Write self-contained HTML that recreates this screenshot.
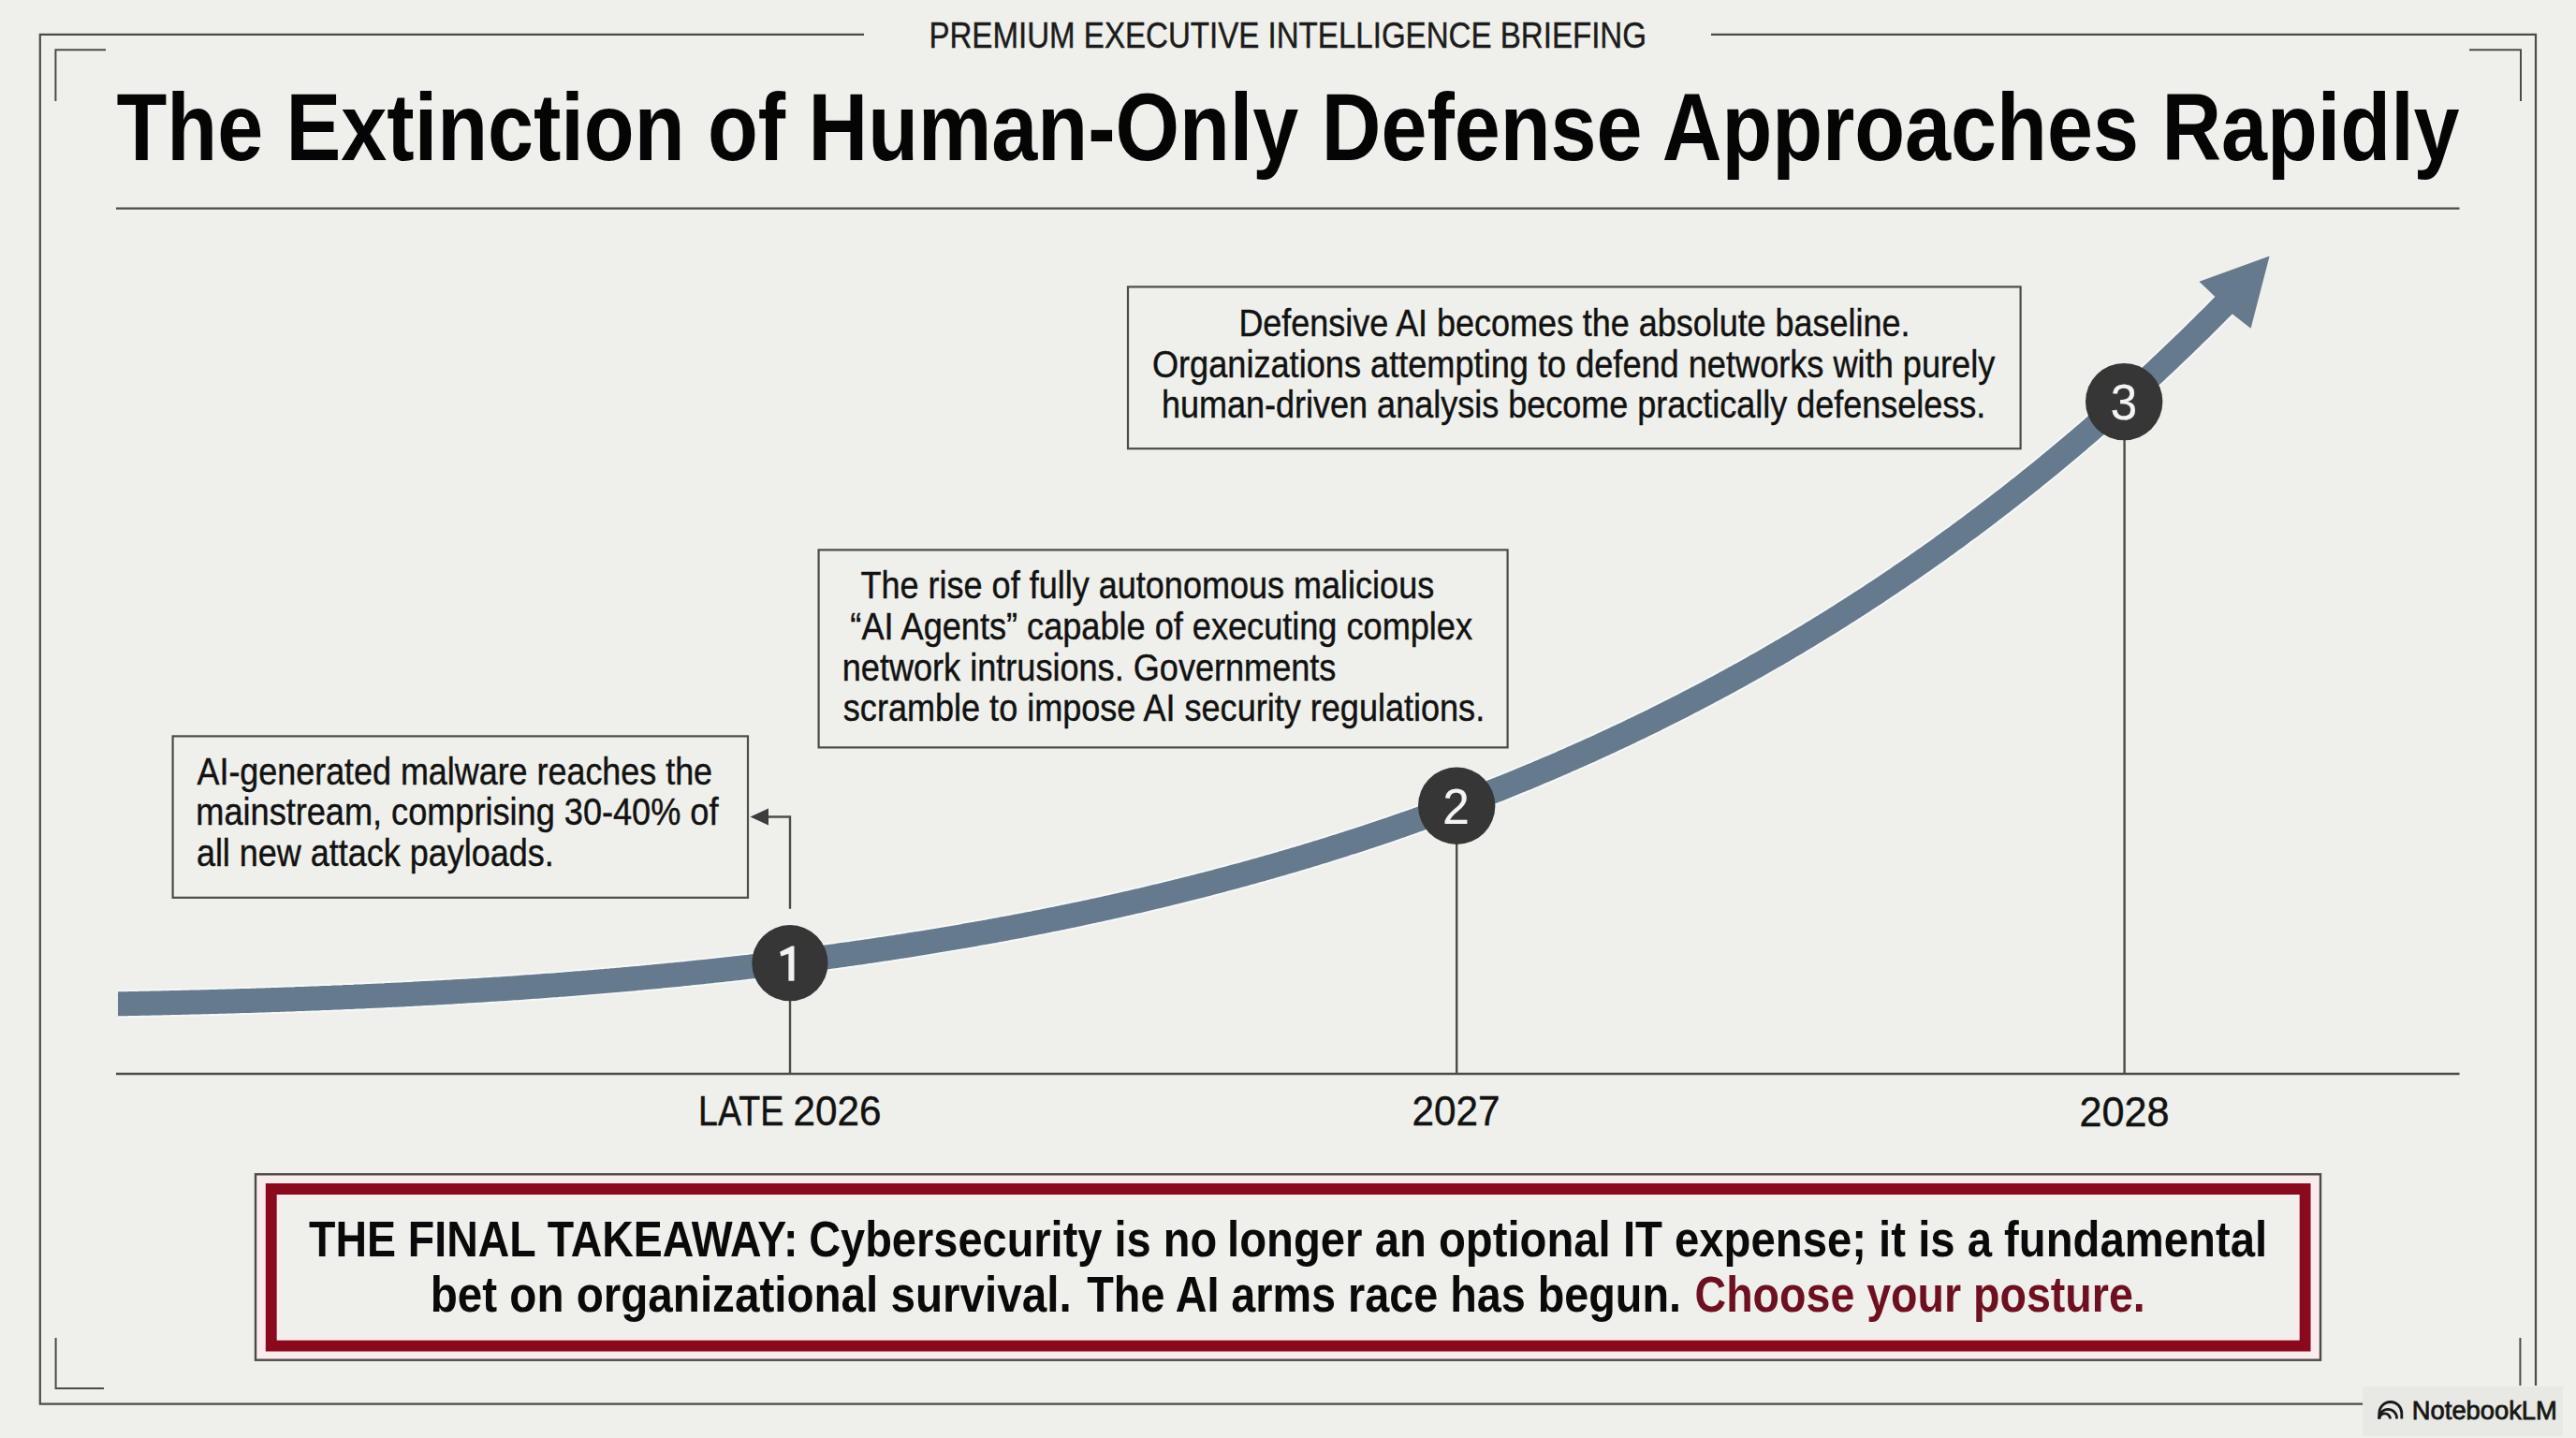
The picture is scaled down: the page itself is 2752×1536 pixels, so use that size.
<!DOCTYPE html>
<html><head><meta charset="utf-8">
<title>The Extinction of Human-Only Defense Approaches Rapidly</title>
<style>
html,body{margin:0;padding:0;background:#eff0eb;}
body{width:2752px;height:1536px;overflow:hidden;position:relative;font-family:"Liberation Sans",sans-serif;}
svg{position:absolute;left:0;top:0;display:block;}
svg text{font-family:"Liberation Sans",sans-serif;}
</style></head><body>
<svg width="2752" height="1536" viewBox="0 0 2752 1536">
<rect x="0" y="0" width="2752" height="1536" fill="#eff0eb"/>
<!-- outer frame -->
<g stroke="#4b4c48" stroke-width="2.2" fill="none">
<path d="M923,36.8 H42.8 V1499.6 H2524"/>
<path d="M1828,36.8 H2709 V1480"/>
</g>
<!-- corner brackets -->
<g stroke="#4b4c48" stroke-width="2" fill="none">
<path d="M113,53.2 H59.4 V108"/>
<path d="M2638,53.2 H2693 V108"/>
<path d="M59.6,1429 V1483 H111"/>
<path d="M2692.4,1429 V1480"/>
</g>
<!-- divider -->
<line x1="124" y1="222.6" x2="2627.5" y2="222.6" stroke="#4b4c48" stroke-width="2.4"/>
<!-- axis -->
<line x1="124" y1="1147" x2="2627.5" y2="1147" stroke="#4b4c48" stroke-width="2.6"/>
<!-- drop lines -->
<g stroke="#4b4c48" stroke-width="2.4">
<line x1="844" y1="1030" x2="844" y2="1147"/>
<line x1="1556.2" y1="861" x2="1556.2" y2="1147"/>
<line x1="2269.6" y1="429" x2="2269.6" y2="1147"/>
</g>
<!-- callout arrow -->
<path d="M844,970.8 V872.5 H818" stroke="#4b4c48" stroke-width="2.4" fill="none"/>
<path d="M801.5,872.5 L821,863.5 L821,881.5 Z" fill="#3c3c3c"/>
<!-- boxes -->
<g stroke="#4b4c48" stroke-width="2.2" fill="none">
<rect x="184.6" y="786.4" width="614.4" height="172.4"/>
<rect x="874.6" y="587.4" width="736" height="211"/>
<rect x="1205" y="306.4" width="953.6" height="172.8"/>
</g>
<!-- curve -->
<path d="M126.0,1072.3 L129.0,1072.3 L132.0,1072.2 L135.0,1072.2 L138.0,1072.1 L141.0,1072.0 L144.0,1072.0 L147.0,1071.9 L150.0,1071.8 L153.0,1071.8 L156.0,1071.7 L159.0,1071.7 L162.0,1071.6 L165.0,1071.5 L168.0,1071.5 L171.0,1071.4 L174.0,1071.3 L177.0,1071.3 L180.0,1071.2 L183.0,1071.1 L186.0,1071.1 L189.0,1071.0 L192.0,1070.9 L195.0,1070.8 L198.0,1070.8 L201.0,1070.7 L204.0,1070.6 L207.0,1070.5 L210.0,1070.5 L213.0,1070.4 L216.0,1070.3 L219.0,1070.2 L222.0,1070.2 L225.0,1070.1 L228.0,1070.0 L231.0,1069.9 L234.0,1069.8 L237.0,1069.7 L240.0,1069.7 L243.0,1069.6 L246.0,1069.5 L249.0,1069.4 L252.0,1069.3 L255.0,1069.2 L258.0,1069.1 L261.0,1069.0 L264.0,1069.0 L267.0,1068.9 L270.0,1068.8 L273.0,1068.7 L276.0,1068.6 L279.0,1068.5 L282.0,1068.4 L285.0,1068.3 L288.0,1068.2 L291.0,1068.1 L294.0,1068.0 L297.0,1067.9 L300.0,1067.8 L303.0,1067.7 L306.0,1067.6 L309.0,1067.5 L312.0,1067.4 L315.0,1067.3 L318.0,1067.1 L321.0,1067.0 L324.0,1066.9 L327.0,1066.8 L330.0,1066.7 L333.0,1066.6 L336.0,1066.5 L339.0,1066.4 L342.0,1066.2 L345.0,1066.1 L348.0,1066.0 L351.0,1065.9 L354.0,1065.8 L357.0,1065.6 L360.0,1065.5 L363.0,1065.4 L366.0,1065.3 L369.0,1065.1 L372.0,1065.0 L375.0,1064.9 L378.0,1064.8 L381.0,1064.6 L384.0,1064.5 L387.0,1064.4 L390.0,1064.2 L393.0,1064.1 L396.0,1064.0 L399.0,1063.8 L402.0,1063.7 L405.0,1063.5 L408.0,1063.4 L411.0,1063.3 L414.0,1063.1 L417.0,1063.0 L420.0,1062.8 L423.0,1062.7 L426.0,1062.5 L429.0,1062.4 L432.0,1062.2 L435.0,1062.1 L438.0,1061.9 L441.0,1061.8 L444.0,1061.6 L447.0,1061.5 L450.0,1061.3 L453.0,1061.1 L456.0,1061.0 L459.0,1060.8 L462.0,1060.7 L465.0,1060.5 L468.0,1060.3 L471.0,1060.2 L474.0,1060.0 L477.0,1059.8 L480.0,1059.7 L483.0,1059.5 L486.0,1059.3 L489.0,1059.1 L492.0,1059.0 L495.0,1058.8 L498.0,1058.6 L501.0,1058.4 L504.0,1058.2 L507.0,1058.1 L510.0,1057.9 L513.0,1057.7 L516.0,1057.5 L519.0,1057.3 L522.0,1057.1 L525.0,1056.9 L528.0,1056.7 L531.0,1056.6 L534.0,1056.4 L537.0,1056.2 L540.0,1056.0 L543.0,1055.8 L546.0,1055.6 L549.0,1055.4 L552.0,1055.2 L555.0,1055.0 L558.0,1054.7 L561.0,1054.5 L564.0,1054.3 L567.0,1054.1 L570.0,1053.9 L573.0,1053.7 L576.0,1053.5 L579.0,1053.3 L582.0,1053.0 L585.0,1052.8 L588.0,1052.6 L591.0,1052.4 L594.0,1052.2 L597.0,1051.9 L600.0,1051.7 L603.0,1051.5 L606.0,1051.2 L609.0,1051.0 L612.0,1050.8 L615.0,1050.5 L618.0,1050.3 L621.0,1050.1 L624.0,1049.8 L627.0,1049.6 L630.0,1049.3 L633.0,1049.1 L636.0,1048.8 L639.0,1048.6 L642.0,1048.3 L645.0,1048.1 L648.0,1047.8 L651.0,1047.6 L654.0,1047.3 L657.0,1047.1 L660.0,1046.8 L663.0,1046.6 L666.0,1046.3 L669.0,1046.0 L672.0,1045.8 L675.0,1045.5 L678.0,1045.2 L681.0,1044.9 L684.0,1044.7 L687.0,1044.4 L690.0,1044.1 L693.0,1043.8 L696.0,1043.6 L699.0,1043.3 L702.0,1043.0 L705.0,1042.7 L708.0,1042.4 L711.0,1042.1 L714.0,1041.8 L717.0,1041.5 L720.0,1041.3 L723.0,1041.0 L726.0,1040.7 L729.0,1040.4 L732.0,1040.1 L735.0,1039.8 L738.0,1039.4 L741.0,1039.1 L744.0,1038.8 L747.0,1038.5 L750.0,1038.2 L753.0,1037.9 L756.0,1037.6 L759.0,1037.3 L762.0,1036.9 L765.0,1036.6 L768.0,1036.3 L771.0,1036.0 L774.0,1035.6 L777.0,1035.3 L780.0,1035.0 L783.0,1034.6 L786.0,1034.3 L789.0,1034.0 L792.0,1033.6 L795.0,1033.3 L798.0,1032.9 L801.0,1032.6 L804.0,1032.2 L807.0,1031.9 L810.0,1031.5 L813.0,1031.2 L816.0,1030.8 L819.0,1030.5 L822.0,1030.1 L825.0,1029.8 L828.0,1029.4 L831.0,1029.0 L834.0,1028.7 L837.0,1028.3 L840.0,1027.9 L843.0,1027.5 L846.0,1027.2 L849.0,1026.8 L852.0,1026.4 L855.0,1026.0 L858.0,1025.6 L861.0,1025.3 L864.0,1024.9 L867.0,1024.5 L870.0,1024.1 L873.0,1023.7 L876.0,1023.3 L879.0,1022.9 L882.0,1022.5 L885.0,1022.1 L888.0,1021.7 L891.0,1021.3 L894.0,1020.9 L897.0,1020.4 L900.0,1020.0 L903.0,1019.6 L906.0,1019.2 L909.0,1018.8 L912.0,1018.3 L915.0,1017.9 L918.0,1017.5 L921.0,1017.1 L924.0,1016.6 L927.0,1016.2 L930.0,1015.8 L933.0,1015.3 L936.0,1014.9 L939.0,1014.4 L942.0,1014.0 L945.0,1013.5 L948.0,1013.1 L951.0,1012.6 L954.0,1012.2 L957.0,1011.7 L960.0,1011.2 L963.0,1010.8 L966.0,1010.3 L969.0,1009.9 L972.0,1009.4 L975.0,1008.9 L978.0,1008.4 L981.0,1008.0 L984.0,1007.5 L987.0,1007.0 L990.0,1006.5 L993.0,1006.0 L996.0,1005.5 L999.0,1005.0 L1002.0,1004.5 L1005.0,1004.0 L1008.0,1003.5 L1011.0,1003.0 L1014.0,1002.5 L1017.0,1002.0 L1020.0,1001.5 L1023.0,1001.0 L1026.0,1000.5 L1029.0,1000.0 L1032.0,999.4 L1035.0,998.9 L1038.0,998.4 L1041.0,997.9 L1044.0,997.3 L1047.0,996.8 L1050.0,996.3 L1053.0,995.7 L1056.0,995.2 L1059.0,994.6 L1062.0,994.1 L1065.0,993.5 L1068.0,993.0 L1071.0,992.4 L1074.0,991.9 L1077.0,991.3 L1080.0,990.8 L1083.0,990.2 L1086.0,989.6 L1089.0,989.1 L1092.0,988.5 L1095.0,987.9 L1098.0,987.3 L1101.0,986.7 L1104.0,986.2 L1107.0,985.6 L1110.0,985.0 L1113.0,984.4 L1116.0,983.8 L1119.0,983.2 L1122.0,982.6 L1125.0,982.0 L1128.0,981.4 L1131.0,980.8 L1134.0,980.2 L1137.0,979.5 L1140.0,978.9 L1143.0,978.3 L1146.0,977.7 L1149.0,977.0 L1152.0,976.4 L1155.0,975.8 L1158.0,975.1 L1161.0,974.5 L1164.0,973.9 L1167.0,973.2 L1170.0,972.6 L1173.0,971.9 L1176.0,971.3 L1179.0,970.6 L1182.0,969.9 L1185.0,969.3 L1188.0,968.6 L1191.0,967.9 L1194.0,967.3 L1197.0,966.6 L1200.0,965.9 L1203.0,965.2 L1206.0,964.6 L1209.0,963.9 L1212.0,963.2 L1215.0,962.5 L1218.0,961.8 L1221.0,961.1 L1224.0,960.4 L1227.0,959.7 L1230.0,959.0 L1233.0,958.2 L1236.0,957.5 L1239.0,956.8 L1242.0,956.1 L1245.0,955.4 L1248.0,954.6 L1251.0,953.9 L1254.0,953.2 L1257.0,952.4 L1260.0,951.7 L1263.0,950.9 L1266.0,950.2 L1269.0,949.4 L1272.0,948.7 L1275.0,947.9 L1278.0,947.2 L1281.0,946.4 L1284.0,945.6 L1287.0,944.8 L1290.0,944.1 L1293.0,943.3 L1296.0,942.5 L1299.0,941.7 L1302.0,940.9 L1305.0,940.1 L1308.0,939.3 L1311.0,938.5 L1314.0,937.7 L1317.0,936.9 L1320.0,936.1 L1323.0,935.3 L1326.0,934.5 L1329.0,933.7 L1332.0,932.8 L1335.0,932.0 L1338.0,931.2 L1341.0,930.3 L1344.0,929.5 L1347.0,928.7 L1350.0,927.8 L1353.0,927.0 L1356.0,926.1 L1359.0,925.3 L1362.0,924.4 L1365.0,923.5 L1368.0,922.7 L1371.0,921.8 L1374.0,920.9 L1377.0,920.0 L1380.0,919.2 L1383.0,918.3 L1386.0,917.4 L1389.0,916.5 L1392.0,915.6 L1395.0,914.7 L1398.0,913.8 L1401.0,912.9 L1404.0,912.0 L1407.0,911.0 L1410.0,910.1 L1413.0,909.2 L1416.0,908.3 L1419.0,907.3 L1422.0,906.4 L1425.0,905.4 L1428.0,904.5 L1431.0,903.6 L1434.0,902.6 L1437.0,901.6 L1440.0,900.7 L1443.0,899.7 L1446.0,898.8 L1449.0,897.8 L1452.0,896.8 L1455.0,895.8 L1458.0,894.8 L1461.0,893.9 L1464.0,892.9 L1467.0,891.9 L1470.0,890.9 L1473.0,889.9 L1476.0,888.8 L1479.0,887.8 L1482.0,886.8 L1485.0,885.8 L1488.0,884.8 L1491.0,883.7 L1494.0,882.7 L1497.0,881.7 L1500.0,880.6 L1503.0,879.6 L1506.0,878.5 L1509.0,877.5 L1512.0,876.4 L1515.0,875.3 L1518.0,874.3 L1521.0,873.2 L1524.0,872.1 L1527.0,871.0 L1530.0,870.0 L1533.0,868.9 L1536.0,867.8 L1539.0,866.7 L1542.0,865.6 L1545.0,864.5 L1548.0,863.4 L1551.0,862.2 L1554.0,861.1 L1557.0,860.0 L1560.0,858.9 L1563.0,857.7 L1566.0,856.6 L1569.0,855.4 L1572.0,854.3 L1575.0,853.1 L1578.0,852.0 L1581.0,850.8 L1584.0,849.7 L1587.0,848.5 L1590.0,847.3 L1593.0,846.1 L1596.0,844.9 L1599.0,843.8 L1602.0,842.6 L1605.0,841.4 L1608.0,840.2 L1611.0,838.9 L1614.0,837.7 L1617.0,836.5 L1620.0,835.3 L1623.0,834.1 L1626.0,832.8 L1629.0,831.6 L1632.0,830.4 L1635.0,829.1 L1638.0,827.9 L1641.0,826.6 L1644.0,825.3 L1647.0,824.1 L1650.0,822.8 L1653.0,821.5 L1656.0,820.2 L1659.0,818.9 L1662.0,817.7 L1665.0,816.4 L1668.0,815.1 L1671.0,813.7 L1674.0,812.4 L1677.0,811.1 L1680.0,809.8 L1683.0,808.5 L1686.0,807.1 L1689.0,805.8 L1692.0,804.5 L1695.0,803.1 L1698.0,801.8 L1701.0,800.4 L1704.0,799.0 L1707.0,797.7 L1710.0,796.3 L1713.0,794.9 L1716.0,793.5 L1719.0,792.1 L1722.0,790.7 L1725.0,789.3 L1728.0,787.9 L1731.0,786.5 L1734.0,785.1 L1737.0,783.7 L1740.0,782.3 L1743.0,780.8 L1746.0,779.4 L1749.0,777.9 L1752.0,776.5 L1755.0,775.0 L1758.0,773.6 L1761.0,772.1 L1764.0,770.6 L1767.0,769.2 L1770.0,767.7 L1773.0,766.2 L1776.0,764.7 L1779.0,763.2 L1782.0,761.7 L1785.0,760.2 L1788.0,758.7 L1791.0,757.1 L1794.0,755.6 L1797.0,754.1 L1800.0,752.5 L1803.0,751.0 L1806.0,749.4 L1809.0,747.9 L1812.0,746.3 L1815.0,744.7 L1818.0,743.2 L1821.0,741.6 L1824.0,740.0 L1827.0,738.4 L1830.0,736.8 L1833.0,735.2 L1836.0,733.6 L1839.0,732.0 L1842.0,730.4 L1845.0,728.7 L1848.0,727.1 L1851.0,725.4 L1854.0,723.8 L1857.0,722.1 L1860.0,720.5 L1863.0,718.8 L1866.0,717.2 L1869.0,715.5 L1872.0,713.8 L1875.0,712.1 L1878.0,710.4 L1881.0,708.7 L1884.0,707.0 L1887.0,705.3 L1890.0,703.6 L1893.0,701.8 L1896.0,700.1 L1899.0,698.4 L1902.0,696.6 L1905.0,694.9 L1908.0,693.1 L1911.0,691.3 L1914.0,689.6 L1917.0,687.8 L1920.0,686.0 L1923.0,684.2 L1926.0,682.4 L1929.0,680.6 L1932.0,678.8 L1935.0,677.0 L1938.0,675.1 L1941.0,673.3 L1944.0,671.5 L1947.0,669.6 L1950.0,667.8 L1953.0,665.9 L1956.0,664.0 L1959.0,662.2 L1962.0,660.3 L1965.0,658.4 L1968.0,656.5 L1971.0,654.6 L1974.0,652.7 L1977.0,650.8 L1980.0,648.9 L1983.0,646.9 L1986.0,645.0 L1989.0,643.1 L1992.0,641.1 L1995.0,639.2 L1998.0,637.2 L2001.0,635.2 L2004.0,633.3 L2007.0,631.3 L2010.0,629.3 L2013.0,627.3 L2016.0,625.3 L2019.0,623.3 L2022.0,621.2 L2025.0,619.2 L2028.0,617.2 L2031.0,615.1 L2034.0,613.1 L2037.0,611.0 L2040.0,609.0 L2043.0,606.9 L2046.0,604.8 L2049.0,602.7 L2052.0,600.6 L2055.0,598.5 L2058.0,596.4 L2061.0,594.3 L2064.0,592.2 L2067.0,590.1 L2070.0,587.9 L2073.0,585.8 L2076.0,583.6 L2079.0,581.5 L2082.0,579.3 L2085.0,577.1 L2088.0,574.9 L2091.0,572.8 L2094.0,570.6 L2097.0,568.3 L2100.0,566.1 L2103.0,563.9 L2106.0,561.7 L2109.0,559.4 L2112.0,557.2 L2115.0,554.9 L2118.0,552.7 L2121.0,550.4 L2124.0,548.1 L2127.0,545.8 L2130.0,543.6 L2133.0,541.3 L2136.0,538.9 L2139.0,536.6 L2142.0,534.3 L2145.0,532.0 L2148.0,529.6 L2151.0,527.3 L2154.0,524.9 L2157.0,522.5 L2160.0,520.2 L2163.0,517.8 L2166.0,515.4 L2169.0,513.0 L2172.0,510.6 L2175.0,508.2 L2178.0,505.7 L2181.0,503.3 L2184.0,500.9 L2187.0,498.4 L2190.0,496.0 L2193.0,493.5 L2196.0,491.0 L2199.0,488.5 L2202.0,486.0 L2205.0,483.5 L2208.0,481.0 L2211.0,478.5 L2214.0,476.0 L2217.0,473.4 L2220.0,470.9 L2223.0,468.3 L2226.0,465.8 L2229.0,463.2 L2232.0,460.6 L2235.0,458.0 L2238.0,455.4 L2241.0,452.8 L2244.0,450.2 L2247.0,447.6 L2250.0,444.9 L2253.0,442.3 L2256.0,439.6 L2259.0,437.0 L2262.0,434.3 L2265.0,431.6 L2268.0,428.9 L2271.0,426.2 L2274.0,423.5 L2277.0,420.8 L2280.0,418.1 L2283.0,415.3 L2286.0,412.6 L2289.0,409.8 L2292.0,407.1 L2295.0,404.3 L2298.0,401.5 L2301.0,398.7 L2304.0,395.9 L2307.0,393.1 L2310.0,390.3 L2313.0,387.5 L2316.0,384.6 L2319.0,381.8 L2322.0,378.9 L2325.0,376.1 L2328.0,373.2 L2331.0,370.3 L2334.0,367.4 L2337.0,364.5 L2340.0,361.6 L2343.0,358.6 L2346.0,355.7 L2349.0,352.7 L2352.0,349.8 L2355.0,346.8 L2358.0,343.8 L2361.0,340.9 L2364.0,337.9 L2367.0,334.9 L2370.0,331.8 L2373.0,328.8 L2376.0,325.8 L2379.0,322.7" stroke="#f6f8fa" stroke-width="30" fill="none" stroke-linecap="butt" opacity="0.9"/>
<path d="M126.0,1072.3 L129.0,1072.3 L132.0,1072.2 L135.0,1072.2 L138.0,1072.1 L141.0,1072.0 L144.0,1072.0 L147.0,1071.9 L150.0,1071.8 L153.0,1071.8 L156.0,1071.7 L159.0,1071.7 L162.0,1071.6 L165.0,1071.5 L168.0,1071.5 L171.0,1071.4 L174.0,1071.3 L177.0,1071.3 L180.0,1071.2 L183.0,1071.1 L186.0,1071.1 L189.0,1071.0 L192.0,1070.9 L195.0,1070.8 L198.0,1070.8 L201.0,1070.7 L204.0,1070.6 L207.0,1070.5 L210.0,1070.5 L213.0,1070.4 L216.0,1070.3 L219.0,1070.2 L222.0,1070.2 L225.0,1070.1 L228.0,1070.0 L231.0,1069.9 L234.0,1069.8 L237.0,1069.7 L240.0,1069.7 L243.0,1069.6 L246.0,1069.5 L249.0,1069.4 L252.0,1069.3 L255.0,1069.2 L258.0,1069.1 L261.0,1069.0 L264.0,1069.0 L267.0,1068.9 L270.0,1068.8 L273.0,1068.7 L276.0,1068.6 L279.0,1068.5 L282.0,1068.4 L285.0,1068.3 L288.0,1068.2 L291.0,1068.1 L294.0,1068.0 L297.0,1067.9 L300.0,1067.8 L303.0,1067.7 L306.0,1067.6 L309.0,1067.5 L312.0,1067.4 L315.0,1067.3 L318.0,1067.1 L321.0,1067.0 L324.0,1066.9 L327.0,1066.8 L330.0,1066.7 L333.0,1066.6 L336.0,1066.5 L339.0,1066.4 L342.0,1066.2 L345.0,1066.1 L348.0,1066.0 L351.0,1065.9 L354.0,1065.8 L357.0,1065.6 L360.0,1065.5 L363.0,1065.4 L366.0,1065.3 L369.0,1065.1 L372.0,1065.0 L375.0,1064.9 L378.0,1064.8 L381.0,1064.6 L384.0,1064.5 L387.0,1064.4 L390.0,1064.2 L393.0,1064.1 L396.0,1064.0 L399.0,1063.8 L402.0,1063.7 L405.0,1063.5 L408.0,1063.4 L411.0,1063.3 L414.0,1063.1 L417.0,1063.0 L420.0,1062.8 L423.0,1062.7 L426.0,1062.5 L429.0,1062.4 L432.0,1062.2 L435.0,1062.1 L438.0,1061.9 L441.0,1061.8 L444.0,1061.6 L447.0,1061.5 L450.0,1061.3 L453.0,1061.1 L456.0,1061.0 L459.0,1060.8 L462.0,1060.7 L465.0,1060.5 L468.0,1060.3 L471.0,1060.2 L474.0,1060.0 L477.0,1059.8 L480.0,1059.7 L483.0,1059.5 L486.0,1059.3 L489.0,1059.1 L492.0,1059.0 L495.0,1058.8 L498.0,1058.6 L501.0,1058.4 L504.0,1058.2 L507.0,1058.1 L510.0,1057.9 L513.0,1057.7 L516.0,1057.5 L519.0,1057.3 L522.0,1057.1 L525.0,1056.9 L528.0,1056.7 L531.0,1056.6 L534.0,1056.4 L537.0,1056.2 L540.0,1056.0 L543.0,1055.8 L546.0,1055.6 L549.0,1055.4 L552.0,1055.2 L555.0,1055.0 L558.0,1054.7 L561.0,1054.5 L564.0,1054.3 L567.0,1054.1 L570.0,1053.9 L573.0,1053.7 L576.0,1053.5 L579.0,1053.3 L582.0,1053.0 L585.0,1052.8 L588.0,1052.6 L591.0,1052.4 L594.0,1052.2 L597.0,1051.9 L600.0,1051.7 L603.0,1051.5 L606.0,1051.2 L609.0,1051.0 L612.0,1050.8 L615.0,1050.5 L618.0,1050.3 L621.0,1050.1 L624.0,1049.8 L627.0,1049.6 L630.0,1049.3 L633.0,1049.1 L636.0,1048.8 L639.0,1048.6 L642.0,1048.3 L645.0,1048.1 L648.0,1047.8 L651.0,1047.6 L654.0,1047.3 L657.0,1047.1 L660.0,1046.8 L663.0,1046.6 L666.0,1046.3 L669.0,1046.0 L672.0,1045.8 L675.0,1045.5 L678.0,1045.2 L681.0,1044.9 L684.0,1044.7 L687.0,1044.4 L690.0,1044.1 L693.0,1043.8 L696.0,1043.6 L699.0,1043.3 L702.0,1043.0 L705.0,1042.7 L708.0,1042.4 L711.0,1042.1 L714.0,1041.8 L717.0,1041.5 L720.0,1041.3 L723.0,1041.0 L726.0,1040.7 L729.0,1040.4 L732.0,1040.1 L735.0,1039.8 L738.0,1039.4 L741.0,1039.1 L744.0,1038.8 L747.0,1038.5 L750.0,1038.2 L753.0,1037.9 L756.0,1037.6 L759.0,1037.3 L762.0,1036.9 L765.0,1036.6 L768.0,1036.3 L771.0,1036.0 L774.0,1035.6 L777.0,1035.3 L780.0,1035.0 L783.0,1034.6 L786.0,1034.3 L789.0,1034.0 L792.0,1033.6 L795.0,1033.3 L798.0,1032.9 L801.0,1032.6 L804.0,1032.2 L807.0,1031.9 L810.0,1031.5 L813.0,1031.2 L816.0,1030.8 L819.0,1030.5 L822.0,1030.1 L825.0,1029.8 L828.0,1029.4 L831.0,1029.0 L834.0,1028.7 L837.0,1028.3 L840.0,1027.9 L843.0,1027.5 L846.0,1027.2 L849.0,1026.8 L852.0,1026.4 L855.0,1026.0 L858.0,1025.6 L861.0,1025.3 L864.0,1024.9 L867.0,1024.5 L870.0,1024.1 L873.0,1023.7 L876.0,1023.3 L879.0,1022.9 L882.0,1022.5 L885.0,1022.1 L888.0,1021.7 L891.0,1021.3 L894.0,1020.9 L897.0,1020.4 L900.0,1020.0 L903.0,1019.6 L906.0,1019.2 L909.0,1018.8 L912.0,1018.3 L915.0,1017.9 L918.0,1017.5 L921.0,1017.1 L924.0,1016.6 L927.0,1016.2 L930.0,1015.8 L933.0,1015.3 L936.0,1014.9 L939.0,1014.4 L942.0,1014.0 L945.0,1013.5 L948.0,1013.1 L951.0,1012.6 L954.0,1012.2 L957.0,1011.7 L960.0,1011.2 L963.0,1010.8 L966.0,1010.3 L969.0,1009.9 L972.0,1009.4 L975.0,1008.9 L978.0,1008.4 L981.0,1008.0 L984.0,1007.5 L987.0,1007.0 L990.0,1006.5 L993.0,1006.0 L996.0,1005.5 L999.0,1005.0 L1002.0,1004.5 L1005.0,1004.0 L1008.0,1003.5 L1011.0,1003.0 L1014.0,1002.5 L1017.0,1002.0 L1020.0,1001.5 L1023.0,1001.0 L1026.0,1000.5 L1029.0,1000.0 L1032.0,999.4 L1035.0,998.9 L1038.0,998.4 L1041.0,997.9 L1044.0,997.3 L1047.0,996.8 L1050.0,996.3 L1053.0,995.7 L1056.0,995.2 L1059.0,994.6 L1062.0,994.1 L1065.0,993.5 L1068.0,993.0 L1071.0,992.4 L1074.0,991.9 L1077.0,991.3 L1080.0,990.8 L1083.0,990.2 L1086.0,989.6 L1089.0,989.1 L1092.0,988.5 L1095.0,987.9 L1098.0,987.3 L1101.0,986.7 L1104.0,986.2 L1107.0,985.6 L1110.0,985.0 L1113.0,984.4 L1116.0,983.8 L1119.0,983.2 L1122.0,982.6 L1125.0,982.0 L1128.0,981.4 L1131.0,980.8 L1134.0,980.2 L1137.0,979.5 L1140.0,978.9 L1143.0,978.3 L1146.0,977.7 L1149.0,977.0 L1152.0,976.4 L1155.0,975.8 L1158.0,975.1 L1161.0,974.5 L1164.0,973.9 L1167.0,973.2 L1170.0,972.6 L1173.0,971.9 L1176.0,971.3 L1179.0,970.6 L1182.0,969.9 L1185.0,969.3 L1188.0,968.6 L1191.0,967.9 L1194.0,967.3 L1197.0,966.6 L1200.0,965.9 L1203.0,965.2 L1206.0,964.6 L1209.0,963.9 L1212.0,963.2 L1215.0,962.5 L1218.0,961.8 L1221.0,961.1 L1224.0,960.4 L1227.0,959.7 L1230.0,959.0 L1233.0,958.2 L1236.0,957.5 L1239.0,956.8 L1242.0,956.1 L1245.0,955.4 L1248.0,954.6 L1251.0,953.9 L1254.0,953.2 L1257.0,952.4 L1260.0,951.7 L1263.0,950.9 L1266.0,950.2 L1269.0,949.4 L1272.0,948.7 L1275.0,947.9 L1278.0,947.2 L1281.0,946.4 L1284.0,945.6 L1287.0,944.8 L1290.0,944.1 L1293.0,943.3 L1296.0,942.5 L1299.0,941.7 L1302.0,940.9 L1305.0,940.1 L1308.0,939.3 L1311.0,938.5 L1314.0,937.7 L1317.0,936.9 L1320.0,936.1 L1323.0,935.3 L1326.0,934.5 L1329.0,933.7 L1332.0,932.8 L1335.0,932.0 L1338.0,931.2 L1341.0,930.3 L1344.0,929.5 L1347.0,928.7 L1350.0,927.8 L1353.0,927.0 L1356.0,926.1 L1359.0,925.3 L1362.0,924.4 L1365.0,923.5 L1368.0,922.7 L1371.0,921.8 L1374.0,920.9 L1377.0,920.0 L1380.0,919.2 L1383.0,918.3 L1386.0,917.4 L1389.0,916.5 L1392.0,915.6 L1395.0,914.7 L1398.0,913.8 L1401.0,912.9 L1404.0,912.0 L1407.0,911.0 L1410.0,910.1 L1413.0,909.2 L1416.0,908.3 L1419.0,907.3 L1422.0,906.4 L1425.0,905.4 L1428.0,904.5 L1431.0,903.6 L1434.0,902.6 L1437.0,901.6 L1440.0,900.7 L1443.0,899.7 L1446.0,898.8 L1449.0,897.8 L1452.0,896.8 L1455.0,895.8 L1458.0,894.8 L1461.0,893.9 L1464.0,892.9 L1467.0,891.9 L1470.0,890.9 L1473.0,889.9 L1476.0,888.8 L1479.0,887.8 L1482.0,886.8 L1485.0,885.8 L1488.0,884.8 L1491.0,883.7 L1494.0,882.7 L1497.0,881.7 L1500.0,880.6 L1503.0,879.6 L1506.0,878.5 L1509.0,877.5 L1512.0,876.4 L1515.0,875.3 L1518.0,874.3 L1521.0,873.2 L1524.0,872.1 L1527.0,871.0 L1530.0,870.0 L1533.0,868.9 L1536.0,867.8 L1539.0,866.7 L1542.0,865.6 L1545.0,864.5 L1548.0,863.4 L1551.0,862.2 L1554.0,861.1 L1557.0,860.0 L1560.0,858.9 L1563.0,857.7 L1566.0,856.6 L1569.0,855.4 L1572.0,854.3 L1575.0,853.1 L1578.0,852.0 L1581.0,850.8 L1584.0,849.7 L1587.0,848.5 L1590.0,847.3 L1593.0,846.1 L1596.0,844.9 L1599.0,843.8 L1602.0,842.6 L1605.0,841.4 L1608.0,840.2 L1611.0,838.9 L1614.0,837.7 L1617.0,836.5 L1620.0,835.3 L1623.0,834.1 L1626.0,832.8 L1629.0,831.6 L1632.0,830.4 L1635.0,829.1 L1638.0,827.9 L1641.0,826.6 L1644.0,825.3 L1647.0,824.1 L1650.0,822.8 L1653.0,821.5 L1656.0,820.2 L1659.0,818.9 L1662.0,817.7 L1665.0,816.4 L1668.0,815.1 L1671.0,813.7 L1674.0,812.4 L1677.0,811.1 L1680.0,809.8 L1683.0,808.5 L1686.0,807.1 L1689.0,805.8 L1692.0,804.5 L1695.0,803.1 L1698.0,801.8 L1701.0,800.4 L1704.0,799.0 L1707.0,797.7 L1710.0,796.3 L1713.0,794.9 L1716.0,793.5 L1719.0,792.1 L1722.0,790.7 L1725.0,789.3 L1728.0,787.9 L1731.0,786.5 L1734.0,785.1 L1737.0,783.7 L1740.0,782.3 L1743.0,780.8 L1746.0,779.4 L1749.0,777.9 L1752.0,776.5 L1755.0,775.0 L1758.0,773.6 L1761.0,772.1 L1764.0,770.6 L1767.0,769.2 L1770.0,767.7 L1773.0,766.2 L1776.0,764.7 L1779.0,763.2 L1782.0,761.7 L1785.0,760.2 L1788.0,758.7 L1791.0,757.1 L1794.0,755.6 L1797.0,754.1 L1800.0,752.5 L1803.0,751.0 L1806.0,749.4 L1809.0,747.9 L1812.0,746.3 L1815.0,744.7 L1818.0,743.2 L1821.0,741.6 L1824.0,740.0 L1827.0,738.4 L1830.0,736.8 L1833.0,735.2 L1836.0,733.6 L1839.0,732.0 L1842.0,730.4 L1845.0,728.7 L1848.0,727.1 L1851.0,725.4 L1854.0,723.8 L1857.0,722.1 L1860.0,720.5 L1863.0,718.8 L1866.0,717.2 L1869.0,715.5 L1872.0,713.8 L1875.0,712.1 L1878.0,710.4 L1881.0,708.7 L1884.0,707.0 L1887.0,705.3 L1890.0,703.6 L1893.0,701.8 L1896.0,700.1 L1899.0,698.4 L1902.0,696.6 L1905.0,694.9 L1908.0,693.1 L1911.0,691.3 L1914.0,689.6 L1917.0,687.8 L1920.0,686.0 L1923.0,684.2 L1926.0,682.4 L1929.0,680.6 L1932.0,678.8 L1935.0,677.0 L1938.0,675.1 L1941.0,673.3 L1944.0,671.5 L1947.0,669.6 L1950.0,667.8 L1953.0,665.9 L1956.0,664.0 L1959.0,662.2 L1962.0,660.3 L1965.0,658.4 L1968.0,656.5 L1971.0,654.6 L1974.0,652.7 L1977.0,650.8 L1980.0,648.9 L1983.0,646.9 L1986.0,645.0 L1989.0,643.1 L1992.0,641.1 L1995.0,639.2 L1998.0,637.2 L2001.0,635.2 L2004.0,633.3 L2007.0,631.3 L2010.0,629.3 L2013.0,627.3 L2016.0,625.3 L2019.0,623.3 L2022.0,621.2 L2025.0,619.2 L2028.0,617.2 L2031.0,615.1 L2034.0,613.1 L2037.0,611.0 L2040.0,609.0 L2043.0,606.9 L2046.0,604.8 L2049.0,602.7 L2052.0,600.6 L2055.0,598.5 L2058.0,596.4 L2061.0,594.3 L2064.0,592.2 L2067.0,590.1 L2070.0,587.9 L2073.0,585.8 L2076.0,583.6 L2079.0,581.5 L2082.0,579.3 L2085.0,577.1 L2088.0,574.9 L2091.0,572.8 L2094.0,570.6 L2097.0,568.3 L2100.0,566.1 L2103.0,563.9 L2106.0,561.7 L2109.0,559.4 L2112.0,557.2 L2115.0,554.9 L2118.0,552.7 L2121.0,550.4 L2124.0,548.1 L2127.0,545.8 L2130.0,543.6 L2133.0,541.3 L2136.0,538.9 L2139.0,536.6 L2142.0,534.3 L2145.0,532.0 L2148.0,529.6 L2151.0,527.3 L2154.0,524.9 L2157.0,522.5 L2160.0,520.2 L2163.0,517.8 L2166.0,515.4 L2169.0,513.0 L2172.0,510.6 L2175.0,508.2 L2178.0,505.7 L2181.0,503.3 L2184.0,500.9 L2187.0,498.4 L2190.0,496.0 L2193.0,493.5 L2196.0,491.0 L2199.0,488.5 L2202.0,486.0 L2205.0,483.5 L2208.0,481.0 L2211.0,478.5 L2214.0,476.0 L2217.0,473.4 L2220.0,470.9 L2223.0,468.3 L2226.0,465.8 L2229.0,463.2 L2232.0,460.6 L2235.0,458.0 L2238.0,455.4 L2241.0,452.8 L2244.0,450.2 L2247.0,447.6 L2250.0,444.9 L2253.0,442.3 L2256.0,439.6 L2259.0,437.0 L2262.0,434.3 L2265.0,431.6 L2268.0,428.9 L2271.0,426.2 L2274.0,423.5 L2277.0,420.8 L2280.0,418.1 L2283.0,415.3 L2286.0,412.6 L2289.0,409.8 L2292.0,407.1 L2295.0,404.3 L2298.0,401.5 L2301.0,398.7 L2304.0,395.9 L2307.0,393.1 L2310.0,390.3 L2313.0,387.5 L2316.0,384.6 L2319.0,381.8 L2322.0,378.9 L2325.0,376.1 L2328.0,373.2 L2331.0,370.3 L2334.0,367.4 L2337.0,364.5 L2340.0,361.6 L2343.0,358.6 L2346.0,355.7 L2349.0,352.7 L2352.0,349.8 L2355.0,346.8 L2358.0,343.8 L2361.0,340.9 L2364.0,337.9 L2367.0,334.9 L2370.0,331.8 L2373.0,328.8 L2376.0,325.8 L2379.0,322.7" stroke="#667a8e" stroke-width="26" fill="none" stroke-linecap="butt"/>
<path d="M2424.6,273.5 L2349.5,300.8 L2366.4,316.9 L2384.7,335.2 L2404.6,350.8 Z" fill="#667a8e"/>
<!-- circles -->
<g fill="#363636">
<circle cx="843.9" cy="1028.7" r="40.6"/>
<circle cx="1556.2" cy="860.8" r="41.2"/>
<circle cx="2269.2" cy="429.1" r="41.2"/>
</g>
<path d="M833.2,1016.8 L845.8,1010.6 L848.5,1010.6 L848.5,1047.7 L842.4,1047.7 L842.4,1018.8 L834.4,1021.4 Z" fill="#f2f2f2"/>
<!-- takeaway box -->
<rect x="273" y="1254.3" width="2206" height="198.4" fill="#fbebed" stroke="#4a4a46" stroke-width="2.4"/>
<rect x="289.8" y="1270" width="2172.7" height="167.5" fill="#eff0eb" stroke="#880a1c" stroke-width="12"/>
<rect x="298.3" y="1278.5" width="2155.7" height="150.5" fill="none" stroke="#f6ebeb" stroke-width="5" opacity="0.8"/>
<!-- watermark -->
<rect x="2524" y="1481" width="214" height="53" fill="#e8e9e5"/>
<g stroke="#1a1a1a" stroke-width="2.8" fill="none" stroke-linecap="butt">
<path d="M2541.8,1515.6 V1509.5 A12,12 0 0 1 2565.8,1509.5 V1515.6"/>
<path d="M2541.8,1515.6 V1514.6 A9.35,9.35 0 0 1 2560.5,1514.6 V1515.6"/>
<path d="M2541.8,1515.6 A5.85,5.85 0 0 1 2553.5,1515.6"/>
</g>
<text transform="translate(992.41 51.00) scale(0.8374 1)" font-size="39.53" font-weight="normal" fill="#1c1c1c" stroke="#1c1c1c" stroke-width="0.45">PREMIUM EXECUTIVE INTELLIGENCE BRIEFING</text>
<text transform="translate(124.50 171.00) scale(0.8661 1)" font-size="101.74" font-weight="bold" fill="#050505">The Extinction of Human-Only Defense Approaches Rapidly</text>
<text transform="translate(210.50 837.60) scale(0.8695 1)" font-size="41.28" font-weight="normal" fill="#121212" stroke="#121212" stroke-width="0.45">AI-generated malware reaches the</text>
<text transform="translate(209.34 881.30) scale(0.8754 1)" font-size="41.28" font-weight="normal" fill="#121212" stroke="#121212" stroke-width="0.45">mainstream, comprising 30-40% of</text>
<text transform="translate(209.88 925.10) scale(0.8713 1)" font-size="41.28" font-weight="normal" fill="#121212" stroke="#121212" stroke-width="0.45">all new attack payloads.</text>
<text transform="translate(919.44 638.90) scale(0.8731 1)" font-size="41.28" font-weight="normal" fill="#121212" stroke="#121212" stroke-width="0.45">The rise of fully autonomous malicious</text>
<text transform="translate(908.37 682.90) scale(0.8753 1)" font-size="41.28" font-weight="normal" fill="#121212" stroke="#121212" stroke-width="0.45">“AI Agents” capable of executing complex</text>
<text transform="translate(899.74 726.60) scale(0.8749 1)" font-size="41.28" font-weight="normal" fill="#121212" stroke="#121212" stroke-width="0.45">network intrusions. Governments</text>
<text transform="translate(900.84 770.40) scale(0.8736 1)" font-size="41.28" font-weight="normal" fill="#121212" stroke="#121212" stroke-width="0.45">scramble to impose AI security regulations.</text>
<text transform="translate(1323.39 359.20) scale(0.8707 1)" font-size="41.28" font-weight="normal" fill="#121212" stroke="#121212" stroke-width="0.45">Defensive AI becomes the absolute baseline.</text>
<text transform="translate(1230.90 402.60) scale(0.8762 1)" font-size="41.28" font-weight="normal" fill="#121212" stroke="#121212" stroke-width="0.45">Organizations attempting to defend networks with purely</text>
<text transform="translate(1241.05 446.00) scale(0.8722 1)" font-size="41.28" font-weight="normal" fill="#121212" stroke="#121212" stroke-width="0.45">human-driven analysis become practically defenseless.</text>
<text transform="translate(745.96 1201.70) scale(0.8488 1)" font-size="44.33" font-weight="normal" fill="#121212" stroke="#121212" stroke-width="0.45">LATE</text>
<text transform="translate(847.62 1201.70) scale(0.9531 1)" font-size="44.33" font-weight="normal" fill="#121212" stroke="#121212" stroke-width="0.45">2026</text>
<text transform="translate(1508.42 1202.00) scale(0.9387 1)" font-size="45.06" font-weight="normal" fill="#121212" stroke="#121212" stroke-width="0.45">2027</text>
<text transform="translate(2221.58 1202.50) scale(0.9585 1)" font-size="45.06" font-weight="normal" fill="#121212" stroke="#121212" stroke-width="0.45">2028</text>
<text transform="translate(1541.20 880.00) scale(0.9572 1)" font-size="53.49" font-weight="normal" fill="#f4f4f4" stroke="#f4f4f4" stroke-width="0.25">2</text>
<text transform="translate(2254.80 448.20) scale(0.9651 1)" font-size="53.05" font-weight="normal" fill="#f4f4f4" stroke="#f4f4f4" stroke-width="0.25">3</text>
<text transform="translate(330.00 1341.60) scale(0.8528 1)" font-size="54.51" font-weight="bold" fill="#0a0a0a">THE FINAL TAKEAWAY:</text>
<text transform="translate(864.13 1341.60) scale(0.8619 1)" font-size="54.51" font-weight="bold" fill="#0a0a0a">Cybersecurity is no</text>
<text transform="translate(1311.05 1341.60) scale(0.8674 1)" font-size="54.51" font-weight="bold" fill="#0a0a0a">longer an optional IT expense; it is a fundamental</text>
<text transform="translate(459.72 1400.50) scale(0.8734 1)" font-size="54.51" font-weight="bold" fill="#0a0a0a">bet on organizational survival.</text>
<text transform="translate(1161.30 1400.50) scale(0.8576 1)" font-size="54.51" font-weight="bold" fill="#0a0a0a">The AI arms race has begun.</text>
<text transform="translate(1810.54 1400.50) scale(0.8543 1)" font-size="54.51" font-weight="bold" fill="#6e1020">Choose your posture.</text>
<text transform="translate(2576.86 1515.50) scale(0.9898 1)" font-size="27.62" font-weight="normal" fill="#161616" stroke="#161616" stroke-width="0.8">NotebookLM</text>
</svg>
</body></html>
